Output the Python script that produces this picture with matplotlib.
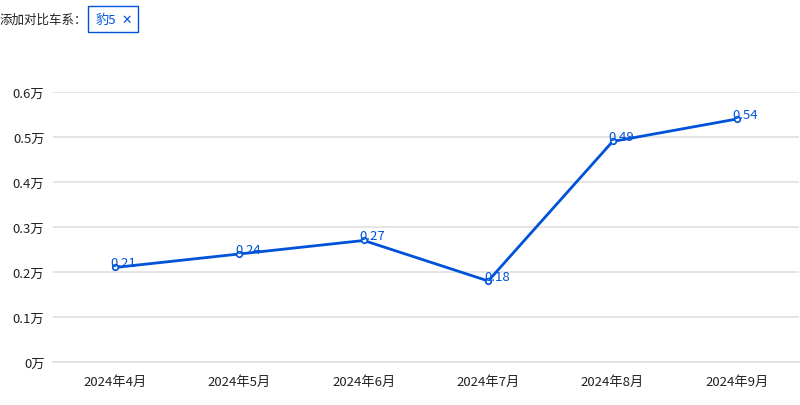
import matplotlib.pyplot as plt
from matplotlib.patches import Rectangle

plt.rcParams['font.family'] = ['Noto Sans CJK SC', 'DejaVu Sans']

# data
months = ['2024年4月', '2024年5月', '2024年6月', '2024年7月', '2024年8月', '2024年9月']
sales = [0.21, 0.24, 0.27, 0.18, 0.49, 0.54]
y_ticks = [0, 0.1, 0.2, 0.3, 0.4, 0.5, 0.6]
y_labels = ['0万', '0.1万', '0.2万', '0.3万', '0.4万', '0.5万', '0.6万']

blue = '#0052d9'

fig = plt.figure(figsize=(8, 4.06), dpi=100)
ax = fig.add_axes([0.066, 0.106, 0.933, 0.665])

x = range(len(months))
ax.plot(x, sales, color=blue, linewidth=2, marker='o', markersize=4,
        markerfacecolor='white', markeredgecolor=blue, markeredgewidth=1.2, zorder=3)
for xi, v in zip(x, sales):
    ax.annotate(f'{v:g}', (xi, v), xytext=(-3, 1), textcoords='offset points',
                ha='left', va='baseline', color=blue, fontsize=9.5, zorder=4)

ax.set_xlim(-0.5, len(months) - 0.5)
ax.set_ylim(0, 0.6)
ax.set_yticks(y_ticks)
ax.set_yticklabels(y_labels)
ax.set_xticks(list(x))
ax.set_xticklabels(months)
ax.tick_params(axis='both', length=0, labelsize=9.5, colors='#222222')
ax.tick_params(axis='y', pad=6)
ax.tick_params(axis='x', pad=9)
ax.grid(axis='y', color='#e0e0e0', linewidth=1.2)
ax.set_axisbelow(True)
for s in ['top', 'right', 'left']:
    ax.spines[s].set_visible(False)
ax.spines['bottom'].set_color('#e0e0e0')
ax.spines['bottom'].set_linewidth(1.2)

# header filter
fig.text(0.0, 1 - 20 / 406, '添加对比车系：', fontsize=9, color='#222222', va='center', ha='left')
fig.patches.append(Rectangle((88 / 800, 1 - 33 / 406), 50 / 800, 26 / 406,
                             transform=fig.transFigure, fill=False,
                             edgecolor=blue, linewidth=1))
fig.text(96 / 800, 1 - 20 / 406, '豹5', fontsize=9.5, color=blue, va='center', ha='left')
fig.text(121 / 800, 1 - 20 / 406, '✕', fontsize=9, color=blue, va='center', ha='left',
         fontweight='bold', family=['DejaVu Sans'])

fig.savefig('out.png', dpi=100)
